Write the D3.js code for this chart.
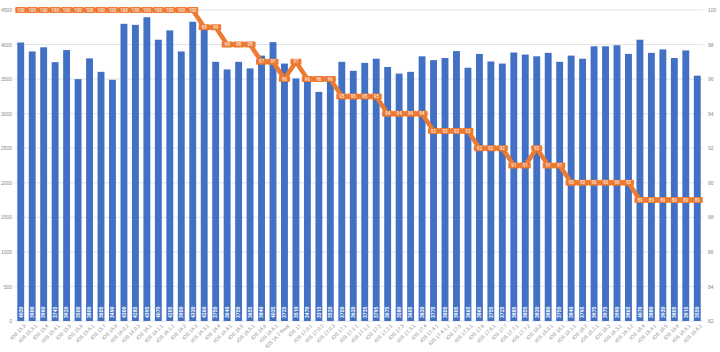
<!DOCTYPE html>
<html>
<head>
<meta charset="utf-8">
<script src="https://cdn.jsdelivr.net/npm/d3@7"></script>
<style>
  body { margin: 0; background: #fff; }
  svg { display: block; font-family: Roboto, "Liberation Sans", sans-serif; }
  .grid line { stroke: #e3e3e3; stroke-width: 1; }
  .axis text { fill: #8a8a8a; font-size: 5px; }
</style>
</head>
<body>
<svg width="720" height="352"></svg>
<script>
const versions = [
  'iOS 15.3', 'iOS 15.3.1', 'iOS 15.4', 'iOS 15.4.1', 'iOS 15.5', 'iOS 15.6', 'iOS 15.6.1', 'iOS 15.7',
  'iOS 16.0', 'iOS 16.0.2', 'iOS 16.0.3', 'iOS 16.1', 'iOS 16.1.1', 'iOS 16.1.2', 'iOS 16.2', 'iOS 16.3',
  'iOS 16.3.1', 'iOS 16.4', 'iOS 16.4.1', 'iOS 16.5', 'iOS 16.5.1', 'iOS 16.6', 'iOS 16.6.1', 'iOS 16.7 Final',
  'iOS 17', 'iOS 17.0.1', 'iOS 17.0.2', 'iOS 17.0.3', 'iOS 17.1', 'iOS 17.1.1', 'iOS 17.1.2', 'iOS 17.2',
  'iOS 17.2.1', 'iOS 17.3', 'iOS 17.3.1', 'iOS 17.4', 'iOS 17.4.1', 'iOS 17.4.1.2', 'iOS 17.5', 'iOS 17.5.1',
  'iOS 17.6', 'iOS 17.6.1', 'iOS 17.7', 'iOS 17.7.1', 'iOS 17.7.2', 'iOS 18.0', 'iOS 18.0.1', 'iOS 18.1',
  'iOS 18.1.1', 'iOS 18.2', 'iOS 18.2.1', 'iOS 18.3', 'iOS 18.3.1', 'iOS 18.3.2', 'iOS 18.4', 'iOS 18.4.1',
  'iOS 18.5', 'iOS 18.6', 'iOS 18.6.1', 'iOS 18.6.2'
];
const scores = [
  4030, 3900, 3960, 3745, 3920, 3500, 3800, 3605, 3490, 4300,
  4285, 4395, 4070, 4205, 3900, 4330, 4260, 3750, 3640, 3750,
  3655, 3840, 4035, 3725, 3510, 3470, 3315, 3520, 3750, 3620,
  3735, 3795, 3675, 3580, 3605, 3830, 3775, 3805, 3905, 3665,
  3865, 3755, 3725, 3885, 3855, 3830, 3880, 3750, 3840, 3795,
  3975, 3975, 3990, 3865, 4070, 3880, 3930, 3805, 3915, 3550
];
const health = [
  100, 100, 100, 100, 100, 100, 100, 100, 100, 100,
  100, 100, 100, 100, 100, 100, 99, 99, 98, 98,
  98, 97, 97, 96, 97, 96, 96, 96, 95, 95,
  95, 95, 94, 94, 94, 94, 93, 93, 93, 93,
  92, 92, 92, 91, 91, 92, 91, 91, 90, 90,
  90, 90, 90, 90, 89, 89, 89, 89, 89, 89
];
const leftTicks = d3.range(0, 4501, 500);
const rightTicks = d3.range(82, 101, 2);

document.addEventListener('DOMContentLoaded', () => {
  const svg = d3.select('svg');
  const left = 15, right = 703, top = 10, bottom = 321;
  const blue = '#4170c4';
  const orange = '#ec7a33';

  const x = d3.scaleBand().domain(versions).range([left, right]).paddingInner(0.4).paddingOuter(0.2);
  const y = d3.scaleLinear().domain([0, 4500]).range([bottom, top]);
  const y2 = d3.scaleLinear().domain([82, 100]).range([bottom, top]);

  // gridlines
  svg.append('g').attr('class', 'grid')
    .selectAll('line').data(leftTicks).enter().append('line')
    .attr('x1', left).attr('x2', right)
    .attr('y1', d => y(d)).attr('y2', d => y(d));

  // left axis
  const leftAxis = svg.append('g').attr('class', 'axis')
    .attr('transform', `translate(${left - 1},0)`)
    .call(d3.axisLeft(y).tickValues(leftTicks).tickFormat(d3.format('d')).tickSize(0).tickPadding(2));
  leftAxis.select('.domain').remove();

  // right axis
  const rightAxis = svg.append('g').attr('class', 'axis')
    .attr('transform', `translate(${right + 3},0)`)
    .call(d3.axisRight(y2).tickValues(rightTicks).tickSize(0).tickPadding(2));
  rightAxis.select('.domain').remove();

  // bars
  svg.append('g').selectAll('rect').data(scores).enter().append('rect')
    .attr('x', (d, i) => x(versions[i]))
    .attr('y', d => y(d))
    .attr('width', x.bandwidth())
    .attr('height', d => y(0) - y(d))
    .attr('fill', blue);

  // value labels inside bars
  svg.append('g').selectAll('text').data(scores).enter().append('text')
    .attr('transform', (d, i) => `translate(${x(versions[i]) + x.bandwidth() / 2 + 1.8},${bottom - 3}) rotate(-90)`)
    .attr('fill', '#fff')
    .attr('font-size', '5px')
    .attr('font-weight', 'bold')
    .text(d => d);

  // category labels
  const catAxis = svg.append('g').attr('class', 'axis')
    .attr('transform', `translate(0,${bottom})`)
    .call(d3.axisBottom(x).tickSize(0).tickPadding(3));
  catAxis.select('.domain').remove();
  catAxis.selectAll('text')
    .attr('text-anchor', 'end')
    .attr('dy', '0.3em')
    .attr('transform', 'translate(2,2) rotate(-45)');

  // battery health line
  const line = d3.line()
    .x((d, i) => x(versions[i]) + x.bandwidth() / 2)
    .y(d => y2(d));

  svg.append('path')
    .datum(health)
    .attr('d', line)
    .attr('fill', 'none')
    .attr('stroke', orange)
    .attr('stroke-width', 4.5)
    .attr('stroke-linejoin', 'round');

  const labels = svg.append('g').selectAll('g').data(health).enter().append('g')
    .attr('transform', (d, i) => `translate(${x(versions[i]) + x.bandwidth() / 2},${y2(d)})`);
  labels.append('rect')
    .attr('x', -5.5).attr('y', -3)
    .attr('width', 11).attr('height', 6)
    .attr('rx', 1)
    .attr('fill', orange);
  labels.append('text')
    .attr('text-anchor', 'middle')
    .attr('dy', '0.35em')
    .attr('fill', '#fff')
    .attr('font-size', '4.5px')
    .text(d => d);
});
</script>
</body>
</html>
